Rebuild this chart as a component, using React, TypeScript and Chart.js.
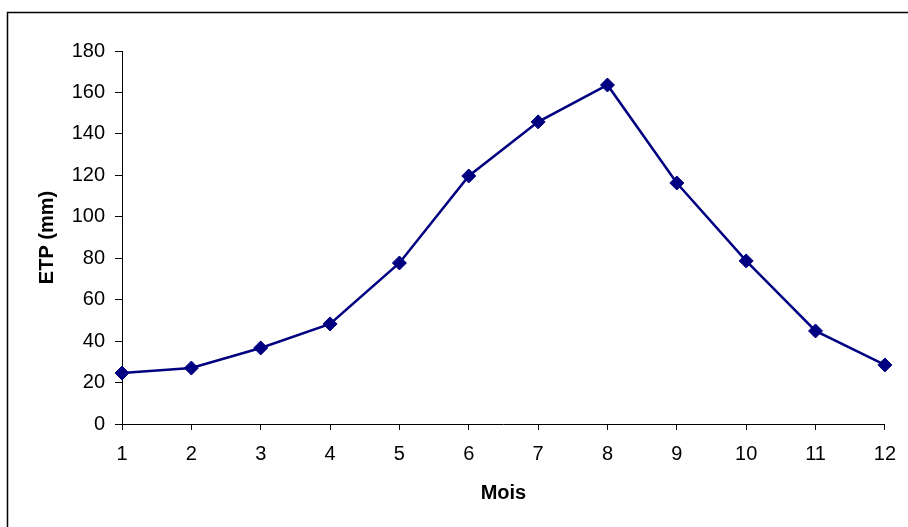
import React, { useEffect, useRef } from "react";
import { Chart, registerables } from "chart.js";

Chart.register(...registerables);

const months = ["1", "2", "3", "4", "5", "6", "7", "8", "9", "10", "11", "12"];
const etp = [24.6, 27.0, 36.7, 48.3, 77.7, 119.7, 145.8, 163.6, 116.3, 78.7, 44.9, 28.5];
const yMin = 0;
const yMax = 180;
const yStep = 20;

const frame = {
  id: "frame",
  beforeDraw(chart: any) {
    const ctx = chart.ctx;
    ctx.save();
    ctx.fillStyle = "#ffffff";
    ctx.fillRect(0, 0, chart.width, chart.height);
    ctx.strokeStyle = "#000000";
    ctx.lineWidth = 1.5;
    ctx.beginPath();
    ctx.moveTo(7.5, chart.height);
    ctx.lineTo(7.5, 12.5);
    ctx.lineTo(chart.width, 12.5);
    ctx.stroke();
    ctx.restore();
  },
};

export default function App() {
  const ref = useRef<HTMLCanvasElement>(null);
  useEffect(() => {
    const font = { family: "'Liberation Sans', Arial, sans-serif", size: 20 };
    const chart = new Chart(ref.current!, {
      type: "line",
      data: {
        labels: months,
        datasets: [
          {
            data: etp,
            borderColor: "#000080",
            backgroundColor: "#000080",
            borderWidth: 2.5,
            pointStyle: "rectRot",
            pointRadius: 7,
            pointBorderWidth: 1,
            pointBorderColor: "#000080",
            pointBackgroundColor: "#000080",
            tension: 0,
            fill: false,
          },
        ],
      },
      options: {
        responsive: false,
        animation: false,
        layout: { padding: { top: 51, right: 23, left: 0, bottom: 0 } },
        plugins: { legend: { display: false }, tooltip: { enabled: false } },
        scales: {
          x: {
            type: "category",
            offset: false,
            afterFit: (s: any) => { s.height = 103; },
            grid: { drawOnChartArea: false, color: "#000", tickLength: 6, offset: false },
            border: { color: "#000", width: 1 },
            ticks: { color: "#000", font, padding: 12, maxRotation: 0, autoSkip: false },
            title: {
              display: true,
              text: "Mois",
              color: "#000",
              font: { ...font, weight: "bold" },
              padding: { top: 0, bottom: 22 },
            },
          },
          y: {
            min: yMin,
            max: yMax,
            afterFit: (s: any) => { s.width = 122; },
            grid: { drawOnChartArea: false, color: "#000", tickLength: 7 },
            border: { color: "#000", width: 1 },
            ticks: { color: "#000", font, padding: 10, stepSize: yStep },
            title: {
              display: true,
              text: "ETP (mm)",
              color: "#000",
              font: { ...font, weight: "bold" },
              padding: { top: 35, bottom: 0 },
            },
          },
        },
      },
      plugins: [frame],
    });
    return () => chart.destroy();
  }, []);
  return (
    <div style={{ position: "absolute", left: 0, top: 0, width: 908, height: 527 }}>
      <canvas ref={ref} width={908} height={527} style={{ display: "block" }} />
    </div>
  );
}
